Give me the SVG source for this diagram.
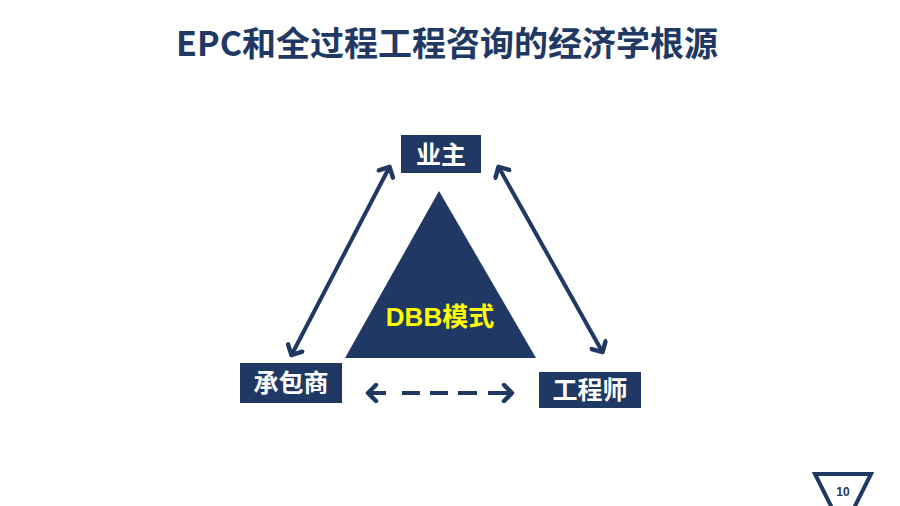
<svg xmlns="http://www.w3.org/2000/svg" width="900" height="506" viewBox="0 0 900 506">
<defs>
<style>
.box{fill:#203864}
.lbl{font-family:"Noto Sans CJK SC","Liberation Sans",sans-serif;font-weight:bold;font-size:25px;fill:#ffffff;text-anchor:middle}
.conn{stroke:#203864;stroke-width:4;fill:none}
</style>
<marker id="chev" viewBox="0 0 20 20" refX="18" refY="10" markerWidth="20" markerHeight="20" orient="auto-start-reverse" markerUnits="userSpaceOnUse">
<polyline points="9,2 17,10 9,18" fill="none" stroke="#203864" stroke-width="4.5" stroke-linecap="round" stroke-linejoin="round"/>
</marker>
</defs>
<rect width="900" height="506" fill="#ffffff"/>
<text x="447" y="56" font-family="Noto Sans CJK SC,'Liberation Sans',sans-serif" font-weight="bold" font-size="34" fill="#203864" text-anchor="middle">EPC和全过程工程咨询的经济学根源</text>
<g id="triangle">
<polygon points="439,191 345,358 536,358" fill="#203864"/>
<text x="440" y="326" font-family="'Liberation Sans','Noto Sans CJK SC',sans-serif" font-weight="bold" font-size="26" fill="#ffff00" text-anchor="middle">DBB模式</text>
</g>
<g id="owner">
<rect class="box" x="401" y="135" width="80" height="38"/>
<text class="lbl" x="441" y="164">业主</text>
</g>
<g id="contractor">
<rect class="box" x="240" y="363" width="102" height="40"/>
<text class="lbl" x="291" y="392">承包商</text>
</g>
<g id="engineer">
<rect class="box" x="539" y="372" width="102" height="36"/>
<text class="lbl" x="590" y="399">工程师</text>
</g>
<g id="connectors">
<line class="conn" x1="390" y1="166" x2="291" y2="356" marker-start="url(#chev)" marker-end="url(#chev)"/>
<line class="conn" x1="498" y1="166" x2="603" y2="353" marker-start="url(#chev)" marker-end="url(#chev)"/>
<line class="conn" x1="367" y1="393" x2="513" y2="393" stroke-dasharray="19,16,18,10,18,10,19,11,25" marker-start="url(#chev)" marker-end="url(#chev)"/>
</g>
<g id="pagenum">
<polygon points="815,474 871,474 843,530" fill="none" stroke="#203864" stroke-width="4"/>
<text x="843" y="496" font-family="'Liberation Sans',sans-serif" font-weight="bold" font-size="12" fill="#203864" text-anchor="middle">10</text>
</g>
</svg>
